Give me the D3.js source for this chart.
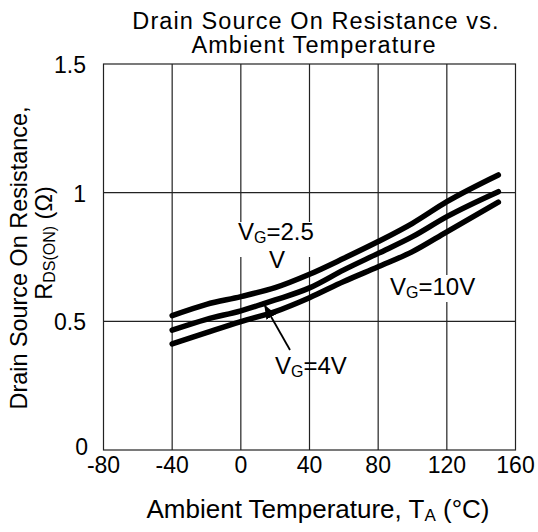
<!DOCTYPE html>
<html><head><meta charset="utf-8">
<script src="https://cdn.jsdelivr.net/npm/d3@7"></script>
<style>body{margin:0;background:#fff}svg{display:block}text{font-family:"Liberation Sans",Arial,sans-serif;fill:#000}</style>
</head><body>
<script>
const temps = [-40,-20,0,20,40,60,80,100,120,150];
const vg25 = [0.522,0.566,0.596,0.631,0.683,0.745,0.810,0.881,0.965,1.069];
const vg4  = [0.466,0.508,0.541,0.583,0.630,0.700,0.764,0.829,0.907,1.004];
const vg10 = [0.412,0.456,0.499,0.538,0.592,0.655,0.712,0.771,0.848,0.963];
const xTicks = [-80,-40,0,40,80,120,160];
const yTicks = [0,0.5,1,1.5];
const yTickLabels = ["0","0.5","1","1.5"];

const W=538,H=532;
const svg=d3.select("body").append("svg").attr("width",W).attr("height",H);
const x=d3.scaleLinear().domain([-80,160]).range([103.5,515.5]);
const y=d3.scaleLinear().domain([0,1.5]).range([450,64]);
const TK=23, TT=23.5, XL=26, YL=23.4, AN=24, SUB=16;

// grid
const g=svg.append("g");
g.selectAll(".vx").data(xTicks.slice(1,-1)).join("line")
 .attr("x1",d=>x(d)).attr("x2",d=>x(d)).attr("y1",y(0)).attr("y2",y(1.5))
 .attr("stroke","#222").attr("stroke-width",1.2);
g.selectAll(".hy").data(yTicks.slice(1,-1)).join("line")
 .attr("y1",d=>y(d)).attr("y2",d=>y(d)).attr("x1",x(-80)).attr("x2",x(160))
 .attr("stroke","#222").attr("stroke-width",1.2);
svg.append("rect").attr("x",x(-80)).attr("y",y(1.5)).attr("width",x(160)-x(-80)).attr("height",y(0)-y(1.5))
 .attr("fill","none").attr("stroke","#222").attr("stroke-width",1.2);

// white label boxes
svg.append("rect").attr("x",236).attr("y",222).attr("width",82).attr("height",35).attr("fill","#fff");
svg.append("rect").attr("x",388).attr("y",275).attr("width",86).attr("height",27).attr("fill","#fff");

// curves
const line=d3.line().x(d=>x(d[0])).y(d=>y(d[1])).curve(d3.curveMonotoneX);
[vg25,vg4,vg10].forEach(s=>{
  svg.append("path").datum(temps.map((t,i)=>[t,s[i]])).attr("d",line)
   .attr("fill","none").attr("stroke","#000").attr("stroke-width",5.5).attr("stroke-linecap","round");
});

// tick labels
svg.selectAll(".xt").data(xTicks).join("text").attr("x",d=>x(d)).attr("y",473)
 .attr("text-anchor","middle").attr("font-size",TK).text(d=>d);
svg.selectAll(".yt").data(yTicks).join("text").attr("x",(d,i)=>i==0?88:86).attr("y",(d,i)=>y(d)+(i==0?5:9))
 .attr("text-anchor","end").attr("font-size",TK).text((d,i)=>yTickLabels[i]);

// title
svg.append("text").attr("x",316).attr("y",29).attr("text-anchor","middle").attr("font-size",TT).attr("letter-spacing",1.1).text("Drain Source On Resistance vs.");
svg.append("text").attr("x",314).attr("y",53).attr("text-anchor","middle").attr("font-size",TT).attr("letter-spacing",1.1).text("Ambient Temperature");

// x label
const xl=svg.append("text").attr("x",318).attr("y",518).attr("text-anchor","middle").attr("font-size",XL);
xl.append("tspan").text("Ambient Temperature, T");
xl.append("tspan").attr("font-size",SUB+1).attr("dy",3).text("A");
xl.append("tspan").attr("dy",-3).text(" (°C)");

// y label
const yl=svg.append("g").attr("transform","translate(27,258) rotate(-90)");
yl.append("text").attr("text-anchor","middle").attr("font-size",YL).text("Drain Source On Resistance,");
const yl2=svg.append("g").attr("transform","translate(52,243) rotate(-90)").append("text").attr("text-anchor","middle").attr("font-size",YL);
yl2.append("tspan").text("R");
yl2.append("tspan").attr("font-size",SUB).attr("dy",3).text("DS(ON)");
yl2.append("tspan").attr("dy",-3).text(" (Ω)");

// annotations
function vg(xp,yp,rest){
  const t=svg.append("text").attr("x",xp).attr("y",yp).attr("font-size",AN);
  t.append("tspan").text("V");
  t.append("tspan").attr("font-size",SUB).attr("dy",3).text("G");
  t.append("tspan").attr("dy",-3).text(rest);
  return t;
}
vg(238,240,"=2.5");
svg.append("text").attr("x",277).attr("y",268).attr("text-anchor","middle").attr("font-size",AN).text("V");
vg(390,295,"=10V");
vg(275,374,"=4V");

// arrow
svg.append("defs").append("marker").attr("id","ah").attr("viewBox","0 0 10 10").attr("refX",9).attr("refY",5)
 .attr("markerWidth",14).attr("markerHeight",14).attr("markerUnits","userSpaceOnUse").attr("orient","auto")
 .append("path").attr("d","M0,1 L10,5 L0,9 Z").attr("fill","#000");
svg.append("line").attr("x1",290).attr("y1",350).attr("x2",265).attr("y2",306)
 .attr("stroke","#000").attr("stroke-width",1.8).attr("marker-end","url(#ah)");
</script>
</body></html>
